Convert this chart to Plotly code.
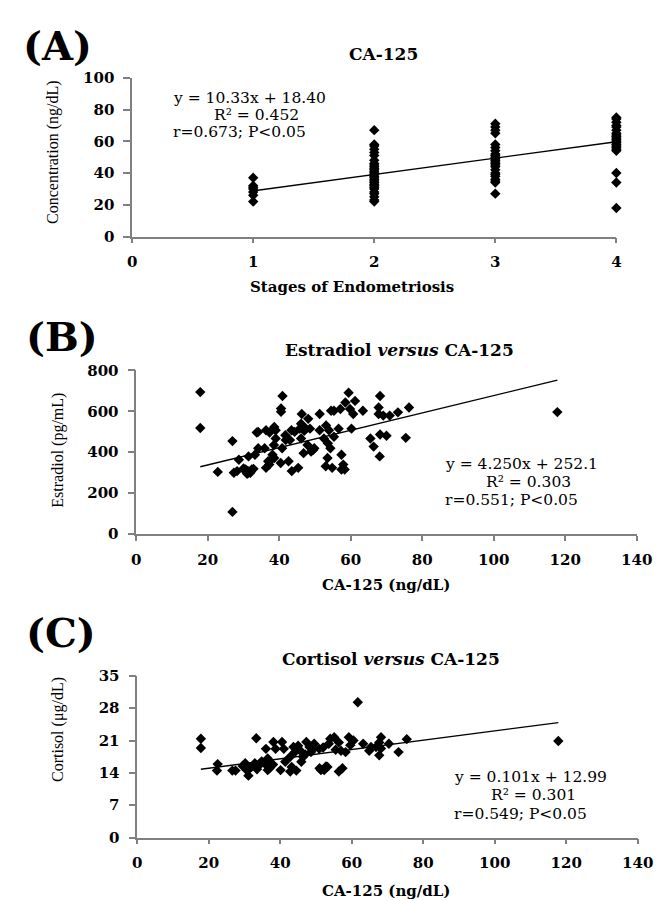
import plotly.graph_objects as go
import numpy as np

# ---------------- DATA ----------------
# Panel A: CA-125 concentration by stage of endometriosis
stage_labels = [1, 2, 3, 4]
ca125_stage1 = [22, 26, 28, 30, 31, 32, 37]
ca125_stage2 = [22, 23, 25, 27, 28, 30, 31, 32, 33, 34, 35, 36, 37, 38, 39, 40,
                41, 42, 43, 44, 45, 46, 48, 51, 53, 55, 57, 58, 67]
ca125_stage3 = [27, 34, 35, 36, 38, 39, 40, 42, 44, 45, 46, 47, 48, 49, 50, 51,
                52, 54, 56, 58, 65, 67, 69, 71]
ca125_stage4 = [18, 34, 40, 54, 55, 56, 57, 58, 59, 60, 61, 62, 63, 64, 65, 67,
                69, 70, 72, 74, 75]
fit_a = {"slope": 10.33, "intercept": 18.40, "r2": 0.452, "r": 0.673}

# Panel B: Estradiol versus CA-125
estr_ca125 = [17.9, 17.9, 22.8, 26.9, 26.9, 27.3, 28.2, 28.7, 30.5, 30.6, 31.0, 31.4,
              31.4, 31.9, 32.3, 32.8, 33.2, 33.7, 34.1, 34.1, 35.9, 36.3, 36.3, 36.9,
              37.2, 37.3, 37.7, 38.1, 38.5, 38.6, 38.6, 39.0, 39.0, 40.4, 40.5, 40.5,
              40.8, 40.9, 41.7, 41.8, 42.6, 43.0, 43.4, 43.5, 44.3, 45.3, 45.7, 46.1,
              46.1, 46.3, 46.8, 47.5, 47.9, 48.1, 48.6, 48.9, 49.5, 49.8, 51.3, 51.3,
              52.5, 53.0, 53.1, 53.5, 53.6, 53.9, 54.3, 54.5, 54.8, 55.3, 55.3, 56.6,
              57.1, 57.4, 57.4, 57.9, 58.3, 58.5, 59.4, 59.8, 60.2, 60.7, 61.2, 63.4,
              65.5, 66.4, 67.8, 67.8, 68.1, 68.2, 68.2, 69.1, 70.0, 70.9, 73.2, 75.4,
              76.3, 117.8, 31.2, 30.0, 32.0, 47.0, 46.6]
estr_value = [694, 518, 303, 454, 107, 299, 307, 363, 307, 315, 294, 299,
              379, 299, 315, 318, 387, 496, 419, 499, 419, 323, 507, 355,
              339, 496, 363, 387, 435, 371, 523, 467, 507, 347, 598, 614,
              419, 675, 483, 459, 355, 459, 507, 307, 499, 323, 515, 467,
              539, 587, 395, 515, 435, 563, 515, 403, 411, 419, 507, 587,
              467, 331, 531, 371, 443, 507, 419, 603, 323, 475, 603, 515,
              611, 387, 315, 339, 315, 643, 691, 611, 515, 587, 651, 603,
              467, 427, 619, 587, 379, 675, 486, 579, 480, 579, 595, 470,
              619, 596, 308, 320, 305, 505, 525]
fit_b = {"slope": 4.250, "intercept": 252.1, "r2": 0.303, "r": 0.551}

# Panel C: Cortisol versus CA-125
cort_ca125 = [17.8, 17.8, 22.5, 22.3, 26.6, 27.5, 30.2, 30.6, 31.1, 32.0, 32.9, 33.3,
              34.2, 35.6, 36.0, 36.5, 36.5, 37.4, 38.1, 38.7, 40.1, 40.5, 41.0, 41.4,
              42.8, 42.8, 43.2, 43.7, 44.1, 45.0, 45.5, 45.9, 46.4, 47.3, 48.2, 48.6,
              49.5, 50.9, 51.0, 51.4, 52.3, 52.8, 53.2, 53.6, 54.0, 55.1, 56.4, 56.4,
              57.4, 58.3, 59.2, 59.6, 60.5, 61.7, 63.2, 64.9, 65.4, 66.8, 67.7, 67.7,
              68.2, 68.2, 70.4, 73.1, 75.4, 117.8, 29.5, 31.5, 33.5, 34.8, 37.0, 38.0,
              44.5, 47.0, 49.0, 52.0, 55.5, 57.0]
cort_value = [21.4, 19.4, 15.9, 14.5, 14.5, 14.5, 16.1, 14.6, 13.4, 15.3, 16.1, 21.5,
              15.7, 16.1, 19.2, 17.1, 14.6, 16.1, 20.7, 19.2, 14.6, 20.7, 19.2, 16.4,
              14.3, 17.5, 15.3, 19.6, 18.5, 19.9, 18.9, 16.4, 17.5, 20.7, 19.6, 18.5,
              20.3, 19.2, 15.0, 14.6, 14.6, 15.4, 15.3, 20.3, 21.4, 21.7, 20.6, 14.3,
              15.0, 18.5, 21.7, 20.0, 21.0, 29.3, 20.3, 18.8, 19.6, 19.6, 20.6, 17.8,
              21.7, 19.3, 20.3, 18.5, 21.3, 20.9, 15.5, 15.0, 14.8, 16.5, 15.0, 15.8,
              14.5, 18.0, 19.0, 19.5, 19.0, 18.8]
fit_c = {"slope": 0.101, "intercept": 12.99, "r2": 0.301, "r": 0.549}

# Tick values
ticks_a_x = [0, 1, 2, 3, 4]
ticks_a_y = [0, 20, 40, 60, 80, 100]
ticks_ca125 = [0, 20, 40, 60, 80, 100, 120, 140]
ticks_estr = [0, 200, 400, 600, 800]
ticks_cort = [0, 7, 14, 21, 28, 35]

# ---------------- FIGURE ----------------
W, H = 666, 901
SERIF = "DejaVu Serif"
TIMES = "Liberation Serif"


def fx(p):
    return p / W


def fy(p):
    return 1 - p / H


stage_x = []
stage_y = []
for s, vals in zip(stage_labels, [ca125_stage1, ca125_stage2, ca125_stage3, ca125_stage4]):
    stage_x += [s] * len(vals)
    stage_y += vals

marker = dict(symbol="diamond", size=8, color="black", line=dict(width=0))
line_style = dict(color="black", width=1.4)

fig = go.Figure()


def add_panel(x, y, fit, xa, ya):
    fig.add_trace(go.Scatter(x=x, y=y, mode="markers", marker=marker,
                             xaxis=xa, yaxis=ya, showlegend=False, cliponaxis=False))
    lx = np.array([min(x), max(x)], dtype=float)
    fig.add_trace(go.Scatter(x=lx, y=fit["slope"] * lx + fit["intercept"], mode="lines",
                             line=line_style, xaxis=xa, yaxis=ya, showlegend=False,
                             cliponaxis=False))


add_panel(stage_x, stage_y, fit_a, "x", "y")
add_panel(estr_ca125, estr_value, fit_b, "x2", "y2")
add_panel(cort_ca125, cort_value, fit_c, "x3", "y3")

tickfont = dict(family=SERIF, size=15, color="black", weight="bold")
common = dict(showline=True, linecolor="#808080", linewidth=1.5, ticks="outside",
              tickcolor="#808080", tickwidth=1.5, showgrid=False, zeroline=False,
              tickfont=tickfont, fixedrange=True)


def xax(d0, d1, rng, tv, anchor):
    return dict(common, domain=[fx(d0), fx(d1)], range=rng, tickvals=tv, anchor=anchor,
                ticklen=5, ticklabelstandoff=6)


def yax(d0, d1, rng, tv, anchor):
    return dict(common, domain=[fy(d1), fy(d0)], range=rng, tickvals=tv, anchor=anchor,
                ticklen=7, ticklabelstandoff=6)


fig.update_layout(
    width=W, height=H, margin=dict(l=0, r=0, t=0, b=0),
    paper_bgcolor="white", plot_bgcolor="white", showlegend=False,
    xaxis=xax(123, 623, [0, 4], ticks_a_x, "y"),
    yaxis=yax(62, 224, [0, 100], ticks_a_y, "x"),
    xaxis2=xax(127.3, 644, [0, 140], ticks_ca125, "y2"),
    yaxis2=yax(360.7, 527.3, [0, 800], ticks_estr, "x2"),
    xaxis3=xax(128.3, 645, [0, 140], ticks_ca125, "y3"),
    yaxis3=yax(672.3, 837.3, [0, 35], ticks_cort, "x3"),
)

ann = []


def text(t, x, y, size, family=SERIF, bold=False, xanchor="center", angle=0):
    ann.append(dict(text=t, x=fx(x), y=fy(y), xref="paper", yref="paper", showarrow=False,
                    xanchor=xanchor, yanchor="middle", textangle=angle,
                    font=dict(family=family, size=size, color="black",
                              weight="bold" if bold else "normal")))


# Panel letters
text("(A)", 8, 29, 40, bold=True, xanchor="left")
text("(B)", 11, 326, 40, bold=True, xanchor="left")
text("(C)", 11, 628, 40, bold=True, xanchor="left")

# Titles
text("CA-125", 383, 38, 17, bold=True)
text("Estradiol <i>versus</i> CA-125", 399, 340, 17, bold=True)
text("Cortisol <i>versus</i> CA-125", 390, 655, 17, bold=True)

# Axis titles
text("Concentration (ng/dL)", 42, 138, 16, family=TIMES, angle=-90)
text("Stages of Endometriosis", 350, 275, 15, bold=True)
text("Estradiol (pg/mL)", 47, 442, 16, family=TIMES, angle=-90)
text("CA-125 (ng/dL)", 385, 580, 15, bold=True)
text("Cortisol (μg/dL)", 47, 727, 16, family=TIMES, angle=-90)
text("CA-125 (ng/dL)", 385, 892, 15, bold=True)


def eq_block(fit, fmt_s, fmt_i, x_left, x_mid, y1, y2, y3):
    text(f"y = {fit['slope']:{fmt_s}}x + {fit['intercept']:{fmt_i}}", x_left, y1, 15.5, xanchor="left")
    text(f"R² = {fit['r2']:.3f}", x_mid, y2, 15.5)
    text(f"r={fit['r']:.3f}; P<0.05", x_left, y3, 15.5, xanchor="left")


eq_block(fit_a, ".2f", ".2f", 163, 251, 83, 100, 117)
eq_block(fit_b, ".3f", ".1f", 444, 532, 456, 474, 493)
eq_block(fit_c, ".3f", ".2f", 453, 537, 776, 794, 813)

fig.update_layout(annotations=ann)
fig.write_html("out.html")
